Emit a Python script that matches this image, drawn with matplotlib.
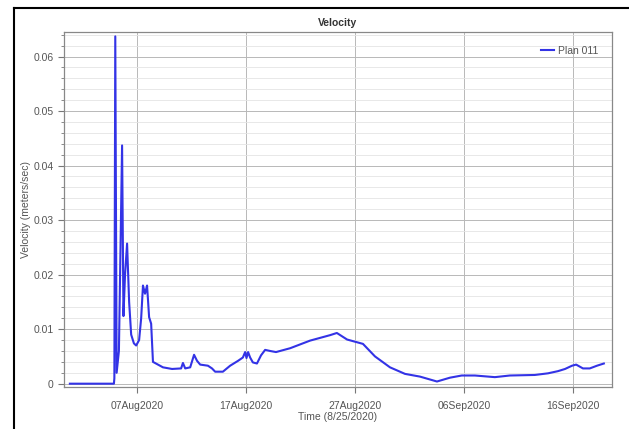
import numpy as np
import pandas as pd
import matplotlib
matplotlib.use("Agg")
import matplotlib.pyplot as plt
import matplotlib.dates as mdates
from matplotlib.ticker import MultipleLocator
from matplotlib.lines import Line2D

# Velocity hydrograph, values
times = [
    "2020-07-31 20:00", "2020-08-04 21:00", "2020-08-04 22:00", "2020-08-05 00:00",
    "2020-08-05 03:00", "2020-08-05 08:00", "2020-08-05 15:00", "2020-08-05 18:00",
    "2020-08-05 21:30", "2020-08-06 02:00", "2020-08-06 06:30", "2020-08-06 11:00",
    "2020-08-06 17:00", "2020-08-06 22:00", "2020-08-07 04:30", "2020-08-07 09:00",
    "2020-08-07 13:00", "2020-08-07 17:30", "2020-08-07 22:00", "2020-08-08 02:30",
    "2020-08-08 07:00", "2020-08-08 11:00", "2020-08-08 22:00", "2020-08-09 09:00",
    "2020-08-10 05:00", "2020-08-11 01:00", "2020-08-11 05:00", "2020-08-11 10:00",
    "2020-08-11 21:00", "2020-08-12 05:30", "2020-08-12 12:00", "2020-08-12 19:00",
    "2020-08-13 12:00", "2020-08-13 21:00", "2020-08-14 04:00", "2020-08-14 21:00",
    "2020-08-15 13:00", "2020-08-16 06:30", "2020-08-16 17:00", "2020-08-16 22:00",
    "2020-08-17 01:00", "2020-08-17 04:30", "2020-08-17 09:00", "2020-08-17 15:00",
    "2020-08-18 00:00", "2020-08-18 09:00", "2020-08-18 18:00", "2020-08-19 05:00",
    "2020-08-19 18:00", "2020-08-21 01:00", "2020-08-22 21:00", "2020-08-24 17:00",
    "2020-08-25 08:00", "2020-08-26 06:30", "2020-08-27 00:00", "2020-08-27 17:30",
    "2020-08-28 20:00", "2020-08-30 05:00", "2020-08-31 14:00", "2020-09-01 23:00",
    "2020-09-03 12:30", "2020-09-04 17:00", "2020-09-05 19:00", "2020-09-07 00:00",
    "2020-09-08 20:00", "2020-09-10 05:00", "2020-09-12 12:00", "2020-09-13 17:00",
    "2020-09-14 15:00", "2020-09-15 06:30", "2020-09-15 22:00", "2020-09-16 07:00",
    "2020-09-16 22:00", "2020-09-17 13:00", "2020-09-18 05:00", "2020-09-18 20:00",
]
velocity = [
    0.0, 0.0, 0.001, 0.0637,
    0.002, 0.006, 0.0437, 0.0124,
    0.020, 0.0257, 0.015, 0.009,
    0.0074, 0.0070, 0.0080, 0.0120,
    0.0180, 0.0165, 0.0180, 0.0122,
    0.0110, 0.0040, 0.0035, 0.0030,
    0.0027, 0.0028, 0.0038, 0.0028,
    0.0030, 0.0053, 0.0042, 0.0035,
    0.0033, 0.0028, 0.0022, 0.0022,
    0.0033, 0.0042, 0.0048, 0.0058,
    0.0047, 0.0058, 0.0048, 0.0039,
    0.0037, 0.0052, 0.0062, 0.0060,
    0.0058, 0.0065, 0.0079, 0.0089,
    0.0093, 0.0081, 0.0077, 0.0073,
    0.0050, 0.0030, 0.0018, 0.0013,
    0.0004, 0.0011, 0.0015, 0.0015,
    0.0012, 0.0015, 0.0016, 0.0019,
    0.0023, 0.0027, 0.0033, 0.0035,
    0.0028, 0.0028, 0.0033, 0.0037,
]
date_ticks = ["2020-08-07", "2020-08-17", "2020-08-27", "2020-09-06", "2020-09-16"]


def main():
    plt.rcParams['font.family'] = ['Liberation Sans', 'DejaVu Sans']
    t = pd.to_datetime(times)

    fig = plt.figure(figsize=(6.29, 4.29), dpi=100)
    ax = fig.add_axes([0.1017, 0.098, 0.8713, 0.8274])

    ax.plot(t, velocity, color='#3333e6', linewidth=1.5, label='Plan 011', zorder=3)

    ax.set_xlim(pd.Timestamp("2020-07-31 07:00"), pd.Timestamp("2020-09-19 14:00"))
    ax.set_ylim(-0.0006, 0.0645)

    ax.set_xticks(pd.to_datetime(date_ticks))
    ax.xaxis.set_major_formatter(mdates.DateFormatter('%d%b%Y'))
    ax.yaxis.set_major_locator(MultipleLocator(0.01))
    ax.yaxis.set_minor_locator(MultipleLocator(0.002))
    ax.yaxis.set_major_formatter(plt.FuncFormatter(lambda v, p: '0' if abs(v) < 1e-9 else f'{v:g}'))

    ax.grid(True, which='major', color='#b8b8b8', linewidth=0.7)
    ax.grid(True, which='minor', axis='y', color='#e4e4e4', linewidth=0.6)
    ax.tick_params(axis='both', which='major', labelsize=7.5, colors='#777777',
                   labelcolor='#555555', length=4, width=0.8)
    ax.tick_params(axis='x', which='major', pad=6)
    ax.tick_params(axis='y', which='minor', length=2, colors='#777777')
    for s in ax.spines.values():
        s.set_color('#888888')
        s.set_linewidth(0.9)

    ax.set_title('Velocity', fontsize=7.5, fontweight='bold', color='#333333', pad=4)
    ax.set_xlabel('Time (8/25/2020)', fontsize=7.5, color='#555555', labelpad=1)
    ax.set_ylabel('Velocity (meters/sec)', fontsize=7.5, color='#555555', labelpad=2)

    leg = ax.legend(loc='upper right', fontsize=7.5, frameon=False, handlelength=1.2,
                    handletextpad=0.4, borderaxespad=0.9)
    for txt in leg.get_texts():
        txt.set_color('#555555')

    # screenshot frame at top-left
    fig.add_artist(Line2D([14 / 629, 14 / 629], [0, 1 - 8 / 429], transform=fig.transFigure,
                          color='black', linewidth=1.5))
    fig.add_artist(Line2D([14 / 629, 1], [1 - 8 / 429, 1 - 8 / 429], transform=fig.transFigure,
                          color='black', linewidth=1.5))

    fig.savefig("out.png", dpi=100)


if __name__ == "__main__":
    main()
